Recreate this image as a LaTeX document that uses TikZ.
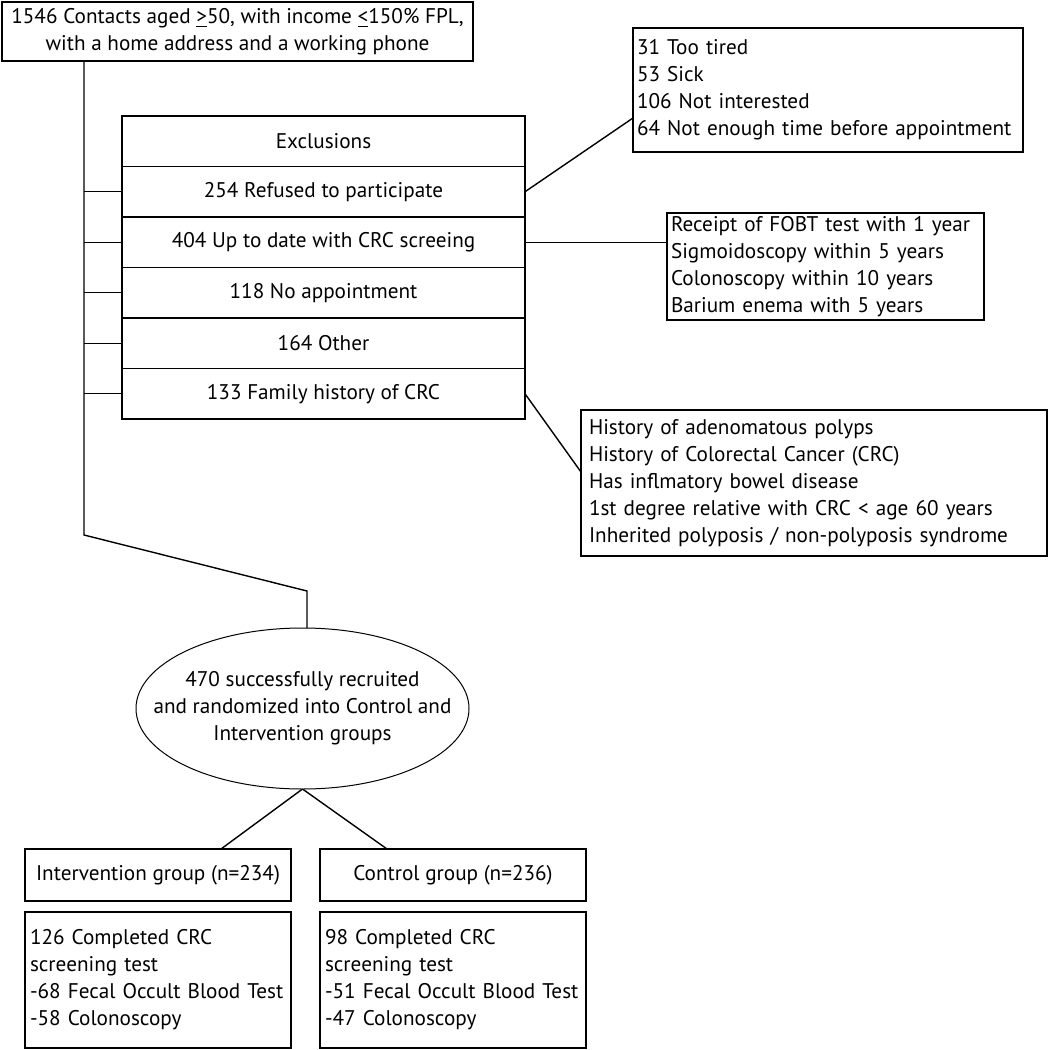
\documentclass[tikz,border=0pt]{standalone}
\usepackage{fontspec}
\setmainfont{PT Sans}
\usetikzlibrary{shapes,shapes.geometric,positioning}

\begin{document}
\begin{tikzpicture}[x=0.5pt, y=-0.5pt,
      every node/.append style={font=\fontsize{10.6}{13.5}\selectfont,inner sep=0pt,outer sep=0pt},
      box/.style={draw,line width=0.9pt,align=center},
      row/.style={box,minimum width=201.5pt,minimum height=25.25pt},
      link/.style={line width=0.7pt}]
    \tikzstyle{listbox} = [draw,line width=0.9pt,align=left,anchor=north west,inner xsep=2pt]
    \useasboundingbox (0,0) rectangle (1050,1050);
    \node (contacts) [box,minimum width=235.5pt,minimum height=29.5pt] at (237.5,31.5)
      {1546 Contacts aged \underline{>}50, with income \underline{<}150\% FPL,\\with a home address and a working phone};
    \node (excl) [row] at (323.5,141.25) {Exclusions};
    \node (refused) [row,below=0pt of excl] {254 Refused to participate};
    \node (uptodate) [row,below=0pt of refused] {404 Up to date with CRC screeing};
    \node (noappt) [row,below=0pt of uptodate] {118 No appointment};
    \node (other) [row,below=0pt of noappt] {164 Other};
    \node (family) [row,below=0pt of other] {133 Family history of CRC};
    \node (refusedwhy) [listbox,text width=191pt,minimum height=62pt] at (633,28)
      {31 Too tired\\53 Sick\\106 Not interested\\64 Not enough time before appointment};
    \node (screenwhy) [listbox,text width=154.5pt,minimum height=53.5pt] at (667,213)
      {Receipt of FOBT test with 1 year\\Sigmoidoscopy within 5 years\\Colonoscopy within 10 years\\Barium enema with 5 years};
    \node (familywhy) [listbox,inner xsep=4pt,text width=225pt,minimum height=73pt] at (581,410)
      {History of adenomatous polyps\\History of Colorectal Cancer (CRC)\\Has inflmatory bowel disease\\1st degree relative with CRC < age 60 years\\Inherited polyposis / non-polyposis syndrome};
    \node (recruit) [draw,ellipse,line width=0.5pt,align=center,inner xsep=-18pt,minimum width=166.5pt,minimum height=80.5pt] at (302.5,708.5)
      {470 successfully recruited\\and randomized into Control and\\Intervention groups};
    \node (interv) [box,minimum width=133pt,minimum height=26pt] at (158,875) {Intervention group (n=234)};
    \node (control) [box,minimum width=133pt,minimum height=26pt] at (453,875) {Control group (n=236)};
    \node (intervres) [listbox,inner xsep=2.5pt,text width=128pt,minimum height=68pt] at (25,912)
      {126 Completed CRC\\screening test\\-68 Fecal Occult Blood Test\\-58 Colonoscopy};
    \node (controlres) [listbox,inner xsep=2.5pt,text width=128pt,minimum height=68pt] at (320,912)
      {98 Completed CRC\\screening test\\-51 Fecal Occult Blood Test\\-47 Colonoscopy};
    \coordinate (bend1) at (84,535);
    \coordinate (bend2) at (307,591);
    \draw[link] (contacts.south -| bend1) -- (bend1) -- (bend2) -- (bend2 |- recruit.north);
    \foreach \r in {refused,uptodate,noappt,other,family}
      \draw[link] (\r.west -| bend1) -- (\r.west);
    \draw[link] (refused.east) -- ([yshift=17pt]refusedwhy.south west);
    \draw[link] (uptodate.east) -- (uptodate.east -| screenwhy.west);
    \draw[link] (family.east) -- ([yshift=5.5pt]familywhy.west);
    \draw[link] (recruit.south) -- ([xshift=31.5pt]interv.north);
    \draw[link] (recruit.south) -- ([xshift=-33pt]control.north);
\end{tikzpicture}
\end{document}
